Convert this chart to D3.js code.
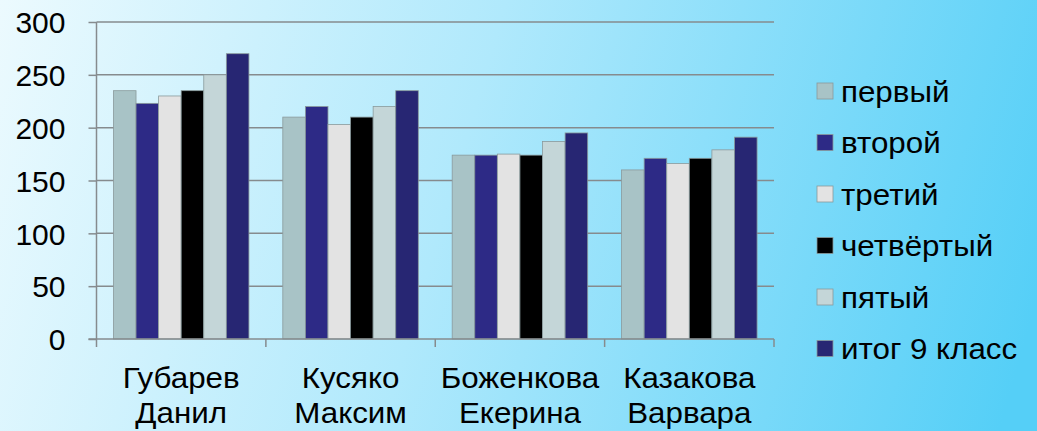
<!DOCTYPE html>
<html><head><meta charset="utf-8">
<script src="https://cdn.jsdelivr.net/npm/d3@7"></script>
<style>body{margin:0;padding:0;overflow:hidden}svg{display:block}</style>
</head><body>
<script>
const categories = [["Губарев","Данил"],["Кусяко","Максим"],["Боженкова","Екерина"],["Казакова","Варвара"]];
const seriesNames = ["первый","второй","третий","четвёртый","пятый","итог 9 класс"];
const seriesColors = ["#a8c3c6","#2d2a86","#e3e3e3","#000000","#c4d6d8","#272673"];
const values = [
  [235, 223, 230, 235, 250, 270],
  [210, 220, 203, 210, 220, 235],
  [174, 174, 175, 174, 187, 195],
  [160, 171, 166, 171, 179, 191]
];
const yTicks = [0,50,100,150,200,250,300];

const W = 1037, H = 431;
const svg = d3.select("body").append("svg").attr("width", W).attr("height", H);
const defs = svg.append("defs");
const g = defs.append("linearGradient").attr("id","bg").attr("gradientUnits","userSpaceOnUse")
  .attr("x1",0).attr("y1",0).attr("x2",W).attr("y2",H*0.7);
g.append("stop").attr("offset","0").attr("stop-color","#ecfafe");
g.append("stop").attr("offset","0.45").attr("stop-color","#b0e9fc");
g.append("stop").attr("offset","1").attr("stop-color","#55cff7");
svg.append("rect").attr("width",W).attr("height",H).attr("fill","url(#bg)");

const x0 = 96.5, x1 = 774, yTop = 22, yBot = 339;
const x = d3.scaleBand().domain(d3.range(categories.length)).range([x0, x1]);
const y = d3.scaleLinear().domain([0,300]).range([yBot, yTop]);
const inner = d3.scaleBand().domain(d3.range(seriesNames.length))
  .range([0, x.bandwidth()]).paddingInner(0).paddingOuter(0.75);

const font = "'Liberation Sans', Arial, sans-serif";
const sx = 1.08;

// gridlines
svg.append("g").selectAll("line").data(yTicks.filter(d=>d>0)).join("line")
  .attr("x1", x0).attr("x2", x1).attr("y1", d=>y(d)).attr("y2", d=>y(d))
  .attr("stroke","#868b8e").attr("stroke-width",1.5);

// bars
const grp = svg.append("g").selectAll("g").data(values).join("g")
  .attr("transform",(d,i)=>`translate(${x(i)},0)`);
grp.selectAll("rect").data(d=>d).join("rect")
  .attr("x",(d,j)=>inner(j)).attr("width",inner.bandwidth())
  .attr("y",d=>y(d)).attr("height",d=>yBot-y(d))
  .attr("fill",(d,j)=>seriesColors[j])
  .attr("stroke","#8a9a9c").attr("stroke-width",0.8);

// y axis
const yAxis = d3.axisLeft(y).tickValues(yTicks).tickSize(8).tickPadding(23);
const ya = svg.append("g").attr("transform",`translate(${x0},0)`).call(yAxis);
ya.select(".domain").attr("stroke","#868b8e").attr("stroke-width",1.5).attr("d",`M0,${yTop}V${yBot}`);
ya.selectAll(".tick line").attr("stroke","#868b8e").attr("stroke-width",1.5);
ya.selectAll("text").attr("font-family",font).attr("font-size",30).attr("fill","#000").attr("dy","0.36em");

// x axis
svg.append("line").attr("x1",x0-8).attr("x2",x1).attr("y1",yBot).attr("y2",yBot)
  .attr("stroke","#868b8e").attr("stroke-width",1.5);
svg.append("g").selectAll("line").data(d3.range(categories.length+1)).join("line")
  .attr("x1",i=>x0+i*x.bandwidth()).attr("x2",i=>x0+i*x.bandwidth())
  .attr("y1",yBot).attr("y2",yBot+8).attr("stroke","#868b8e").attr("stroke-width",1.5);
const labs = svg.append("g").selectAll("text").data(categories).join("text")
  .attr("transform",(d,i)=>`translate(${x(i)+x.bandwidth()/2},0) scale(${sx},1)`)
  .attr("font-family",font).attr("font-size",29).attr("text-anchor","middle").attr("fill","#000");
labs.each(function(d){
  const t = d3.select(this);
  d.forEach((line,k)=>{
    t.append("tspan").attr("x", 0).attr("y", 388+k*35).text(line);
  });
});

// legend
const leg = svg.append("g").selectAll("g").data(seriesNames).join("g")
  .attr("transform",(d,i)=>`translate(817,${83+i*51.5})`);
leg.append("rect").attr("width",16).attr("height",16)
  .attr("fill",(d,i)=>seriesColors[i]).attr("stroke","#8a9a9c").attr("stroke-width",0.8);
leg.append("text").attr("transform",`translate(24,18.5) scale(${sx},1)`).attr("font-family",font).attr("font-size",29)
  .attr("fill","#000").text(d=>d);
</script>
</body></html>
